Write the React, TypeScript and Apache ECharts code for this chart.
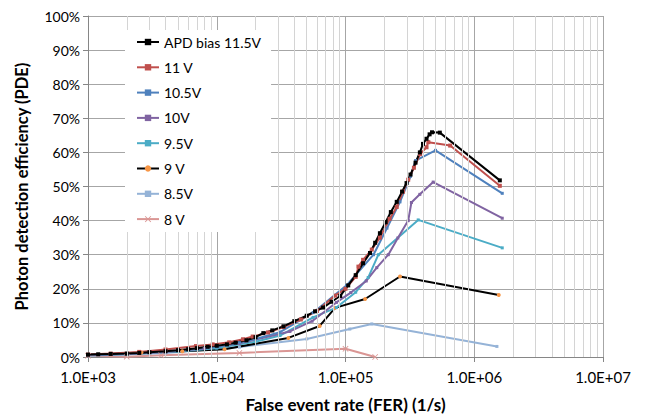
import React, { useEffect, useRef } from "react";
import * as echarts from "echarts";

// x: false event rate (1/s), y: PDE (%)
const bias115: number[][] = [
  [1.0e3, 0.7], [1.2e3, 0.8], [1.5e3, 0.9], [2.0e3, 1.0], [2.5e3, 1.2], [3.0e3, 1.4],
  [4.0e3, 1.7], [5.0e3, 2.0], [6.0e3, 2.3], [7.0e3, 2.6], [8.5e3, 3.0], [1.0e4, 3.3],
  [1.2e4, 3.7], [1.4e4, 4.2], [1.7e4, 4.9], [2.0e4, 5.8], [2.3e4, 7.0], [2.7e4, 7.8],
  [3.3e4, 9.0], [4.0e4, 10.5], [5.0e4, 12.1], [5.8e4, 13.4], [6.7e4, 14.5], [7.8e4, 16.2],
  [9.1e4, 17.9], [1.05e5, 21.0], [1.2e5, 24.0], [1.37e5, 27.5], [1.55e5, 30.5], [1.7e5, 33.5],
  [1.85e5, 36.3], [2.05e5, 39.5], [2.25e5, 42.5], [2.5e5, 45.5], [2.75e5, 48.5], [2.98e5, 51.0],
  [3.2e5, 53.5], [3.5e5, 57.0], [3.78e5, 60.0], [4.0e5, 62.5], [4.26e5, 64.0], [4.5e5, 65.3],
  [4.7e5, 65.9], [5.4e5, 65.8], [1.58e6, 51.8],
];
const bias110: number[][] = [
  [1.0e3, 0.7], [1.5e3, 1.0], [2.5e3, 1.5], [4.0e3, 2.2], [6.9e3, 3.2], [9.3e3, 3.7],
  [1.25e4, 4.3], [1.6e4, 5.2], [1.9e4, 6.0], [2.5e4, 7.2], [3.3e4, 8.8], [4.5e4, 11.0],
  [6.0e4, 13.5], [8.3e4, 18.0], [1.0e5, 20.0], [1.2e5, 23.5], [1.26e5, 26.5], [1.37e5, 28.5],
  [1.6e5, 31.5], [1.85e5, 35.0], [2.2e5, 40.5], [2.5e5, 44.0], [2.8e5, 48.5], [3.07e5, 52.0],
  [3.4e5, 55.5], [3.8e5, 59.5], [4.26e5, 61.5], [4.4e5, 63.0], [6.5e5, 62.0], [1.58e6, 50.2],
];
const bias105: number[][] = [
  [1.0e3, 0.6], [1.5e3, 0.8], [2.5e3, 1.2], [5.0e3, 1.9], [1.0e4, 3.0], [1.5e4, 4.2],
  [2.0e4, 5.3], [3.1e4, 7.3], [5.6e4, 13.0], [1.02e5, 21.0], [1.65e5, 30.0], [2.1e5, 37.8],
  [2.65e5, 45.5], [3.2e5, 53.0], [3.5e5, 57.6], [5.0e5, 60.6], [1.65e6, 48.0],
];
const bias100: number[][] = [
  [1.0e3, 0.6], [2.0e3, 0.9], [4.0e3, 1.5], [8.0e3, 2.5], [1.5e4, 4.0], [3.7e4, 7.5],
  [5.5e4, 10.5], [8.5e4, 16.0], [1.1e5, 18.9], [1.45e5, 22.3], [1.75e5, 26.2], [2.15e5, 30.0],
  [2.55e5, 34.9], [3.07e5, 40.0], [3.25e5, 45.3], [3.78e5, 47.7], [4.8e5, 51.3], [1.65e6, 40.7],
];
const bias95: number[][] = [
  [1.0e3, 0.5], [2.0e3, 0.8], [5.0e3, 1.6], [1.0e4, 2.6], [2.0e4, 4.5], [3.1e4, 6.3],
  [5.6e4, 11.6], [8.5e4, 14.5], [1.2e5, 19.0], [1.5e5, 23.3], [1.8e5, 30.0], [3.67e5, 40.2],
  [1.65e6, 32.0],
];
const bias90: number[][] = [
  [1.0e3, 0.6], [2.6e3, 1.3], [5.4e3, 1.7], [1.15e4, 2.3], [3.6e4, 5.6], [6.3e4, 9.1],
  [8.3e4, 14.4], [1.42e5, 17.0], [2.65e5, 23.6], [1.55e6, 18.2],
];
const bias85: number[][] = [
  [1.0e3, 0.4], [4.0e3, 1.2], [1.5e4, 2.9], [5.0e4, 5.3], [1.08e5, 8.2], [1.6e5, 9.7],
  [1.5e6, 3.1],
];
const bias80: number[][] = [
  [1.0e3, 0.4], [2.0e3, 0.1], [3.7e3, 0.5], [1.5e4, 1.2], [1.0e5, 2.4], [1.7e5, 0.0],
];

const seriesNames = ["APD bias 11.5V", "11 V", "10.5V", "10V", "9.5V", "9 V", "8.5V", "8 V"];
const xDecades = [1e3, 1e4, 1e5, 1e6, 1e7];
const minorMultipliers = [2, 3, 4, 5, 6, 7, 8, 9];
const yTicks = [0, 10, 20, 30, 40, 50, 60, 70, 80, 90, 100];

const FONT = "Lato, 'Open Sans', sans-serif";
const crossPath = "path://M0,1L1,0L5,4L9,0L10,1L6,5L10,9L9,10L5,6L1,10L0,9L4,5Z";

export default function App() {
  const ref = useRef<HTMLDivElement>(null);
  useEffect(() => {
    document.body.style.margin = "0";
    if (!ref.current) return;
    const chart = echarts.init(ref.current, undefined, { renderer: "svg" });
    const minorXs: number[] = [];
    xDecades.slice(0, -1).forEach((d) => minorMultipliers.forEach((m) => minorXs.push(d * m)));

    const mk = (name: string, data: number[][], color: string, symbol: string, symbolSize: number, markerColor?: string) => ({
      name,
      type: "line",
      data,
      z: 3,
      symbol,
      symbolSize,
      showSymbol: true,
      lineStyle: { color, width: 2 },
      itemStyle: { color: markerColor || color },
      emphasis: { disabled: true },
    });

    chart.setOption({
      animation: false,
      grid: { left: 88, right: 42, top: 16, bottom: 58 },
      legend: {
        data: seriesNames,
        orient: "vertical",
        left: 125,
        top: 30,
        padding: [5, 10, 6, 11],
        backgroundColor: "#ffffff",
        itemWidth: 22,
        itemHeight: 8,
        itemGap: 11.3,
        z: 10,
        textStyle: { fontFamily: FONT, fontSize: 14, color: "#000" },
      },
      xAxis: {
        type: "log",
        logBase: 10,
        min: 1e3,
        max: 1e7,
        name: "False event rate (FER) (1/s)",
        nameLocation: "middle",
        nameGap: 39,
        nameTextStyle: { fontFamily: FONT, fontSize: 17, fontWeight: "bold", color: "#000" },
        axisLine: { show: true, lineStyle: { color: "#868686", width: 1 } },
        axisTick: { show: true, length: 5, lineStyle: { color: "#868686" } },
        axisLabel: {
          margin: 12,
          fontFamily: FONT,
          fontSize: 15,
          color: "#000",
          formatter: (v: number) => {
            const e = Math.round(Math.log10(v));
            return `1.0E+${String(e).padStart(2, "0")}`;
          },
        },
        splitLine: { show: true, lineStyle: { color: "#a6a6a6", width: 1 } },
      },
      yAxis: {
        type: "value",
        min: 0,
        max: 100,
        interval: 10,
        name: "Photon detection efficiency (PDE)",
        nameLocation: "middle",
        nameGap: 58,
        nameTextStyle: { fontFamily: FONT, fontSize: 16.5, fontWeight: "bold", color: "#000" },
        axisLine: { show: true, lineStyle: { color: "#868686", width: 1 } },
        axisTick: { show: true, length: 5, lineStyle: { color: "#868686" } },
        axisLabel: {
          margin: 8,
          fontFamily: FONT,
          fontSize: 14,
          color: "#000",
          formatter: (v: number) => (yTicks.includes(Math.round(v)) ? `${Math.round(v)}%` : ""),
        },
        splitLine: { show: true, lineStyle: { color: "#a6a6a6", width: 1 } },
      },
      series: [
        {
          name: "minor-grid",
          type: "line",
          data: [],
          z: 1,
          silent: true,
          markLine: {
            silent: true,
            symbol: ["none", "none"],
            label: { show: false },
            lineStyle: { color: "#d4d4d4", type: "solid", width: 1 },
            emphasis: { disabled: true },
            data: minorXs.map((x) => ({ xAxis: x })),
          },
        },
        mk(seriesNames[7], bias80, "#DA9694", crossPath, 6),
        mk(seriesNames[6], bias85, "#95B3D7", "rect", 3),
        mk(seriesNames[5], bias90, "#000000", "circle", 4, "#F79646"),
        mk(seriesNames[4], bias95, "#4BACC6", "rect", 3),
        mk(seriesNames[3], bias100, "#8064A2", "rect", 3),
        mk(seriesNames[2], bias105, "#4F81BD", "rect", 3),
        mk(seriesNames[1], bias110, "#C0504D", "rect", 4),
        mk(seriesNames[0], bias115, "#000000", "rect", 4),
      ],
    });
    return () => chart.dispose();
  }, []);
  return <div ref={ref} style={{ width: 645, height: 418 }} />;
}
